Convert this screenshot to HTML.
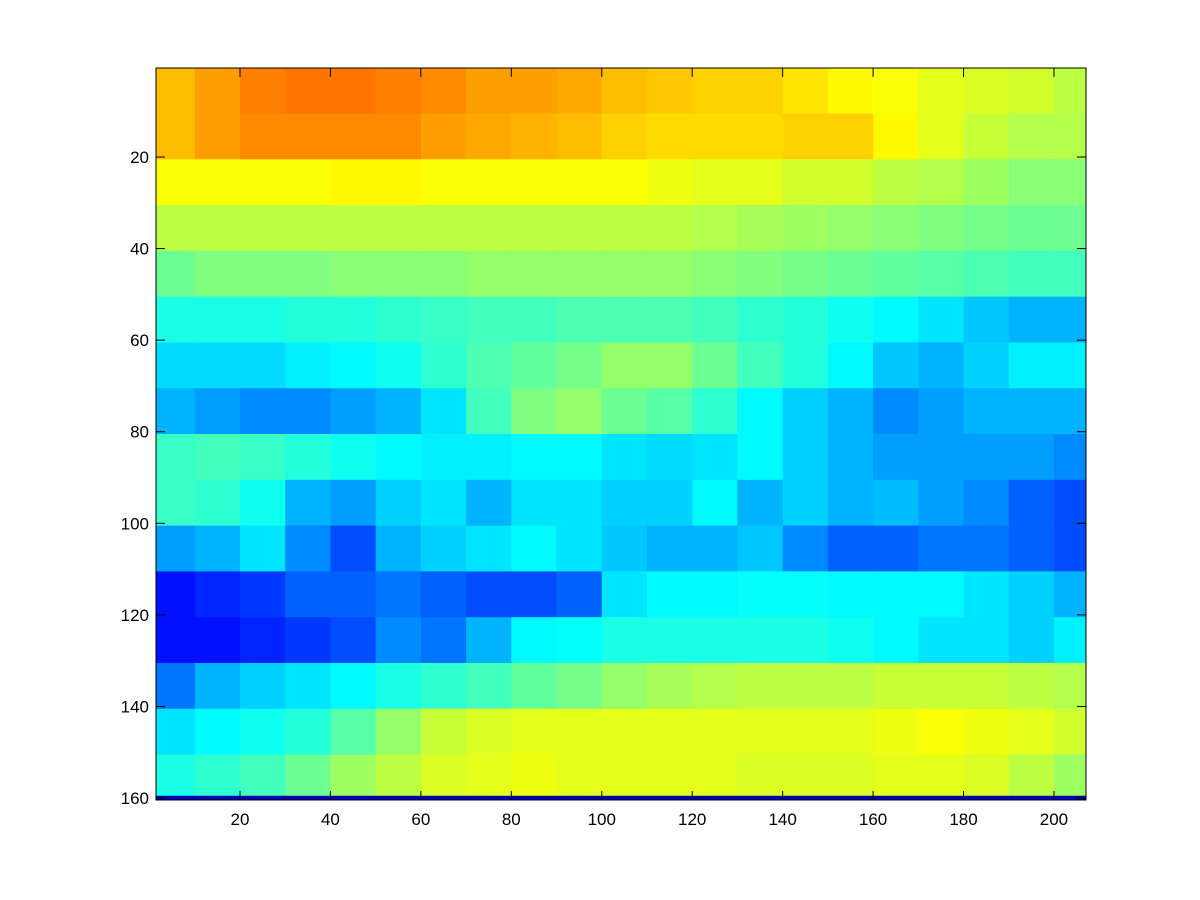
<!DOCTYPE html>
<html><head><meta charset="utf-8"><style>
body{margin:0;background:#fff;}
svg{display:block;font-family:"Liberation Sans",Arial,sans-serif;}
</style></head><body>
<svg id="chart" width="1200" height="900" viewBox="0 0 1200 900">
<defs><clipPath id="ax"><rect x="156" y="68" width="930" height="732"/></clipPath></defs>
<rect width="1200" height="900" fill="#fff"/>
<g id="cells" clip-path="url(#ax)"></g>
<g id="axes"></g>
</svg>
<script>
const colStarts = [0,10,20,30,40,50,60,70,80,90,100,110,120,130,140,150,160,170,180,190,200];
const rowStarts = [0,10,20,30,40,50,60,70,80,90,100,110,120,130,140,150];
const row0 = [.69,.72,.75,.76,.76,.75,.74,.72,.72,.71,.69,.68,.67,.67,.65,.63,.62,.6,.59,.58,.56];
const row1 = [.69,.72,.74,.74,.74,.74,.72,.71,.7,.69,.67,.66,.66,.66,.67,.67,.63,.6,.57,.55,.55];
const row2 = [.62,.62,.62,.62,.63,.63,.62,.62,.62,.62,.62,.61,.6,.6,.58,.58,.56,.55,.53,.51,.51];
const row3 = [.56,.56,.56,.56,.56,.56,.56,.56,.56,.56,.56,.56,.55,.54,.53,.52,.51,.5,.49,.48,.48];
const row4 = [.48,.5,.5,.5,.51,.51,.51,.52,.52,.52,.52,.52,.51,.5,.49,.48,.47,.46,.45,.44,.44];
const row5 = [.4,.4,.4,.41,.41,.42,.43,.44,.44,.45,.45,.45,.44,.42,.41,.39,.37,.35,.32,.3,.3];
const row6 = [.34,.34,.34,.36,.37,.39,.42,.45,.47,.49,.52,.52,.48,.44,.41,.37,.32,.3,.33,.36,.36];
const row7 = [.3,.28,.26,.26,.28,.3,.35,.44,.5,.52,.48,.46,.42,.37,.33,.3,.26,.28,.3,.3,.3];
const row8 = [.43,.44,.43,.41,.39,.37,.36,.36,.37,.37,.35,.34,.35,.37,.33,.3,.28,.28,.28,.28,.26];
const row9 = [.43,.42,.39,.3,.28,.33,.35,.3,.35,.35,.33,.33,.37,.3,.33,.3,.31,.28,.26,.22,.2];
const row10 = [.28,.3,.35,.26,.2,.3,.33,.35,.37,.35,.32,.3,.3,.32,.26,.22,.22,.24,.24,.22,.2];
const row11 = [.14,.16,.18,.22,.22,.24,.22,.2,.2,.22,.35,.37,.37,.38,.38,.37,.37,.37,.35,.33,.3];
const row12 = [.14,.14,.16,.18,.2,.26,.24,.3,.37,.38,.4,.4,.4,.4,.4,.39,.37,.35,.35,.33,.36];
const row13 = [.24,.3,.33,.35,.37,.4,.42,.44,.47,.49,.52,.54,.55,.56,.56,.56,.57,.57,.57,.56,.55];
const row14 = [.35,.37,.39,.41,.46,.52,.57,.59,.6,.6,.6,.6,.6,.6,.6,.6,.61,.62,.61,.6,.58];
const row15 = [.4,.42,.44,.48,.53,.56,.59,.6,.61,.6,.6,.6,.6,.59,.59,.59,.6,.6,.59,.56,.53];
const bottomRowValue = 0.05;
const xTicks = [20,40,60,80,100,120,140,160,180,200];
const yTicks = [20,40,60,80,100,120,140,160];
const rows = [row0,row1,row2,row3,row4,row5,row6,row7,row8,row9,row10,row11,row12,row13,row14,row15];

const NS = "http://www.w3.org/2000/svg";
const xs = v => 240 + (v - 20) * 4.522;
const ys = v => 157 + (v - 20) * 4.579;
const cl = t => Math.max(0, Math.min(1, t));
function jet(v){
  const r = cl(1.5 - Math.abs(4*v - 3)), g = cl(1.5 - Math.abs(4*v - 2)), b = cl(1.5 - Math.abs(4*v - 1));
  return `rgb(${Math.round(r*255)},${Math.round(g*255)},${Math.round(b*255)})`;
}
const cells = document.getElementById('cells');
rows.forEach((row, i) => {
  row.forEach((v, j) => {
    const x0 = xs(colStarts[j]), x1 = xs(colStarts[j] + 10);
    const y0 = ys(rowStarts[i] + 0.5), y1 = ys(rowStarts[i] + 10.5);
    const r = document.createElementNS(NS, 'rect');
    r.setAttribute('x', x0); r.setAttribute('y', y0);
    r.setAttribute('width', x1 - x0 + 0.6); r.setAttribute('height', y1 - y0 + 0.6);
    r.setAttribute('fill', jet(v));
    
    
    cells.appendChild(r);
  });
});
{
  const r = document.createElementNS(NS, 'rect');
  r.setAttribute('x', 150); r.setAttribute('y', ys(159.5));
  r.setAttribute('width', 950); r.setAttribute('height', ys(160.5) - ys(159.5));
  r.setAttribute('fill', jet(bottomRowValue));
  
  
  cells.appendChild(r);
}
const axes = document.getElementById('axes');
const frame = document.createElementNS(NS, 'rect');
frame.setAttribute('x', 156); frame.setAttribute('y', 68); frame.setAttribute('width', 930); frame.setAttribute('height', 732);
frame.setAttribute('fill', 'none'); frame.setAttribute('stroke', '#000'); frame.setAttribute('stroke-width', 1);


axes.appendChild(frame);
function line(x1,y1,x2,y2,name){
  const l = document.createElementNS(NS, 'line');
  l.setAttribute('x1',x1); l.setAttribute('y1',y1); l.setAttribute('x2',x2); l.setAttribute('y2',y2);
  l.setAttribute('stroke','#000'); l.setAttribute('stroke-width',1);
  
  
  axes.appendChild(l);
}
function text(x,y,s,anchor,name){
  const t = document.createElementNS(NS, 'text');
  t.setAttribute('x',x); t.setAttribute('y',y); t.setAttribute('text-anchor',anchor);
  t.setAttribute('font-size',17); t.textContent = s;
  
  
  axes.appendChild(t);
}
xTicks.forEach(v => {
  const x = xs(v);
  line(x,800,x,791,'x-tick');
  line(x,68,x,77,'x-tick-top');
  text(x,825,String(v),'middle','x-tick-label');
});
yTicks.forEach(v => {
  const y = ys(v);
  line(156,y,165,y,'y-tick');
  line(1086,y,1077,y,'y-tick-right');
  text(149,y+6,String(v),'end','y-tick-label');
});
</script>
</body></html>
